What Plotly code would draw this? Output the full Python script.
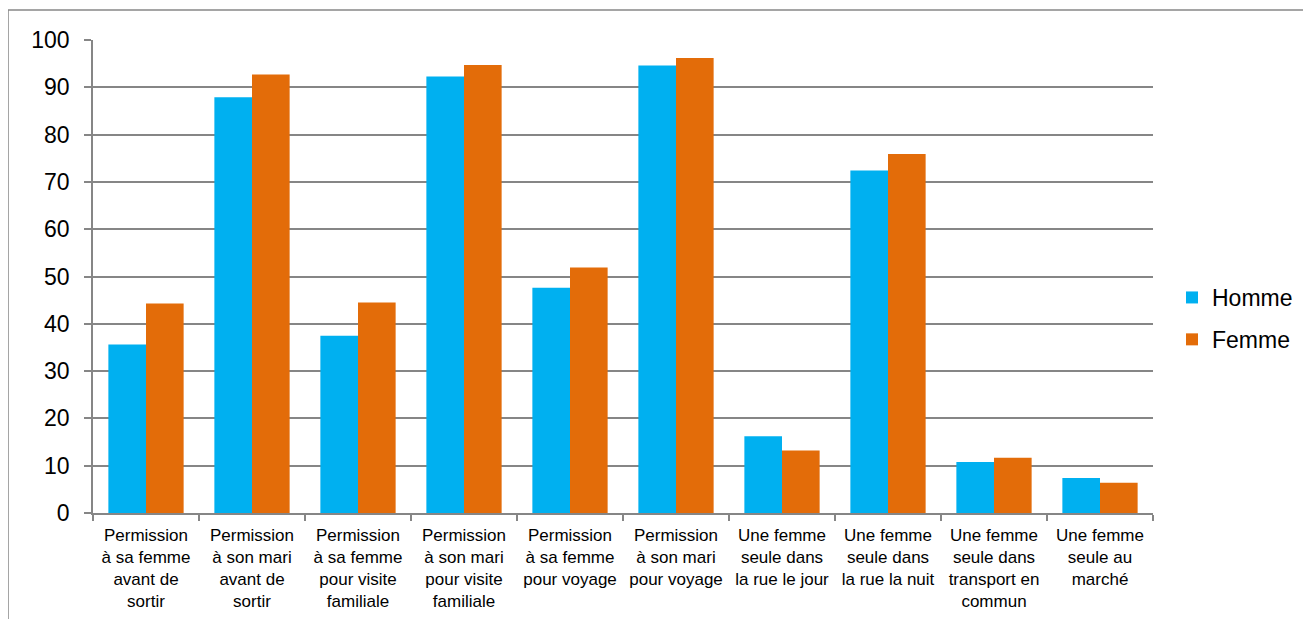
import plotly.graph_objects as go

categories = [
    "Permission<br>à sa femme<br>avant de<br>sortir",
    "Permission<br>à son mari<br>avant de<br>sortir",
    "Permission<br>à sa femme<br>pour visite<br>familiale",
    "Permission<br>à son mari<br>pour visite<br>familiale",
    "Permission<br>à sa femme<br>pour voyage",
    "Permission<br>à son mari<br>pour voyage",
    "Une femme<br>seule dans<br>la rue le jour",
    "Une femme<br>seule dans<br>la rue la nuit",
    "Une femme<br>seule dans<br>transport en<br>commun",
    "Une femme<br>seule au<br>marché",
]
homme = [35.6, 87.9, 37.5, 92.3, 47.6, 94.6, 16.2, 72.4, 10.8, 7.4]
femme = [44.3, 92.7, 44.5, 94.7, 51.9, 96.2, 13.2, 75.9, 11.7, 6.4]
y_ticks = [0, 10, 20, 30, 40, 50, 60, 70, 80, 90, 100]

FONT = "Liberation Sans, Arial, sans-serif"
GRID = "#868686"

fig = go.Figure()
fig.add_trace(go.Bar(name="Homme", x=categories, y=homme, marker_color="#00B0F0",
                     marker_line_width=0, legendgroup="h"))
fig.add_trace(go.Bar(name="Femme", x=categories, y=femme, marker_color="#E36C09",
                     marker_line_width=0, legendgroup="f"))

# page body adds an 8px offset at top/left
OFF = 8
W, H = 1311 - OFF, 619 - OFF
L, T = 93 - OFF, 40 - OFF
pw, ph = 1060, 473
R, B = W - L - pw, H - T - ph

def px_x(x):  # screen x -> paper
    return (x - OFF - L) / pw

def px_y(y):  # screen y -> paper
    return (T + ph - (y - OFF)) / ph

fig.update_layout(
    width=W, height=H,
    margin=dict(l=L, r=R, t=T, b=B, pad=0, autoexpand=False),
    paper_bgcolor="white", plot_bgcolor="white",
    barmode="group", bargap=0.29, bargroupgap=0,
    font=dict(family=FONT, color="#000000"),
    showlegend=True,
    legend=dict(
        x=px_x(1172), y=px_y(276), xanchor="left", yanchor="top",
        font=dict(size=23, family=FONT, color="#000000"),
        tracegroupgap=9, bgcolor="rgba(0,0,0,0)", itemwidth=30,
    ),
    xaxis=dict(
        type="category", automargin=False, showgrid=False, showline=True,
        linecolor=GRID, linewidth=1.5,
        ticks="outside", tickson="boundaries", ticklen=6, tickcolor=GRID, tickwidth=1.5,
        tickfont=dict(size=17, family=FONT, color="#000000"), tickangle=0,
        ticklabelstandoff=6,
    ),
    yaxis=dict(
        range=[0, 100], tickvals=y_ticks, automargin=False, showgrid=True,
        gridcolor=GRID, gridwidth=1.5,
        showline=True, linecolor=GRID, linewidth=1.5, zeroline=False,
        ticks="outside", ticklen=7, tickcolor=GRID, tickwidth=1.5,
        tickfont=dict(size=23, family=FONT, color="#000000"),
        ticklabelstandoff=10,
    ),
)

# outer chart border
fig.add_shape(type="rect", xref="paper", yref="paper",
              x0=px_x(8), x1=px_x(1330), y0=px_y(640), y1=px_y(10),
              line=dict(color="#888888", width=1.5), fillcolor="rgba(0,0,0,0)", layer="below")

fig.write_html("out.html")
